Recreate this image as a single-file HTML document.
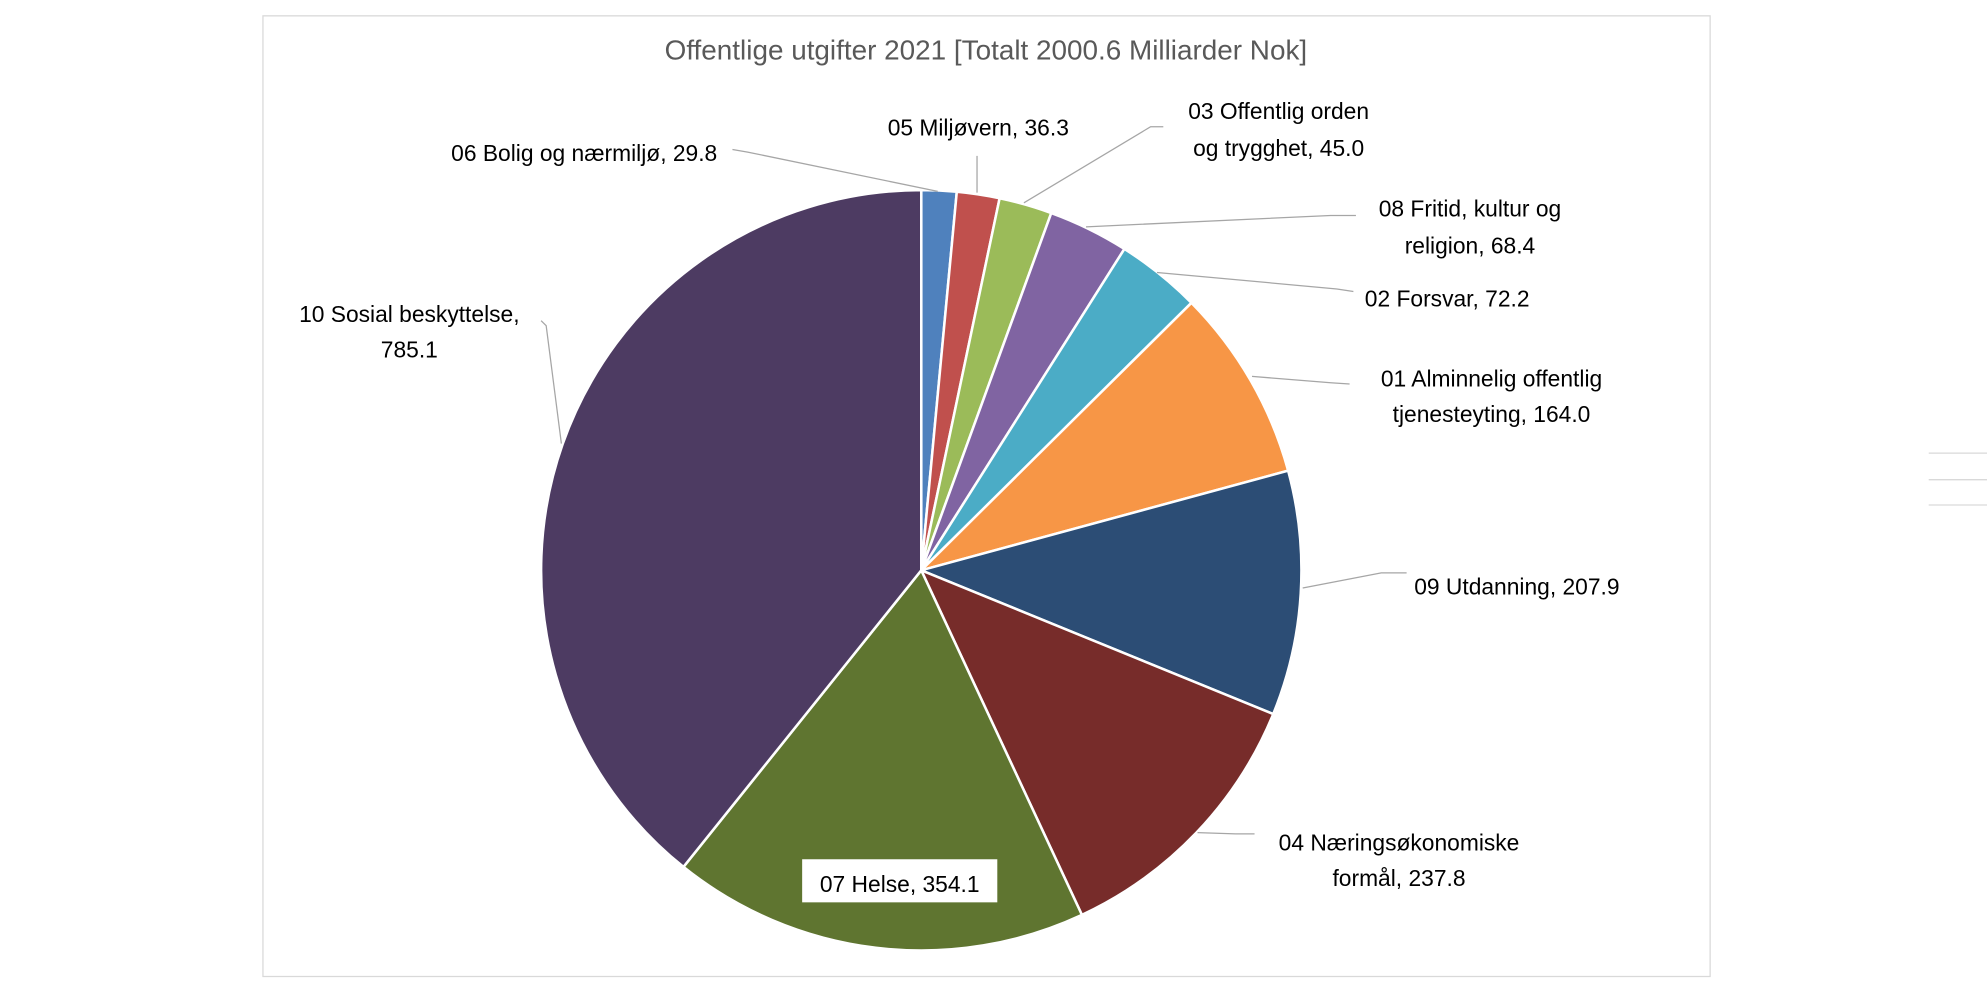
<!DOCTYPE html>
<html><head><meta charset="utf-8"><style>
html,body{margin:0;padding:0;background:#fff;}
svg{display:block;font-family:"Liberation Sans",Calibri,sans-serif;}
</style></head><body>
<svg id="chart" width="1987" height="1005" viewBox="0 0 1568 793" preserveAspectRatio="none" xmlns="http://www.w3.org/2000/svg">
<rect x="207.5" y="12.5" width="1142" height="758" fill="#fff" stroke="#d9d9d9" stroke-width="1"/>
<text x="778" y="47" text-anchor="middle" font-size="22" fill="#595959">Offentlige utgifter 2021 [Totalt 2000.6 Milliarder Nok]</text>
<g id="slices"></g>
<g stroke="#a6a6a6" stroke-width="1" fill="none">
<polyline points="578,118 590,120 740,151"/>
<polyline points="771,123 771,152"/>
<polyline points="918,100 908,100 808,160"/>
<polyline points="1070,170 1050,170 857,179"/>
<polyline points="1068,230 1055,228 913,215"/>
<polyline points="1065,303 1050,302 988,297"/>
<polyline points="1110,452 1090,452 1028,464"/>
<polyline points="990,658 975,658 945,657"/>
<polyline points="427,253 431,257 443,350"/>
</g>
<g font-size="18" fill="#000">
<text x="566" y="127" text-anchor="end">06 Bolig og nærmiljø, 29.8</text>
<text x="772" y="107" text-anchor="middle">05 Miljøvern, 36.3</text>
<text x="1009" y="94" text-anchor="middle">03 Offentlig orden</text>
<text x="1009" y="123" text-anchor="middle">og trygghet, 45.0</text>
<text x="1160" y="171" text-anchor="middle">08 Fritid, kultur og</text>
<text x="1160" y="200" text-anchor="middle">religion, 68.4</text>
<text x="1077" y="242">02 Forsvar, 72.2</text>
<text x="1177" y="305" text-anchor="middle">01 Alminnelig offentlig</text>
<text x="1177" y="333" text-anchor="middle">tjenesteyting, 164.0</text>
<text x="1116" y="469">09 Utdanning, 207.9</text>
<text x="1104" y="671" text-anchor="middle">04 Næringsøkonomiske</text>
<text x="1104" y="699" text-anchor="middle">formål, 237.8</text>
<text x="323" y="254" text-anchor="middle">10 Sosial beskyttelse,</text>
<text x="323" y="282" text-anchor="middle">785.1</text>
<rect x="633" y="678" width="154" height="34" fill="#fff"/>
<text x="710" y="704" text-anchor="middle">07 Helse, 354.1</text>
</g>
<g stroke="#d9d9d9" stroke-width="1">
<line x1="1522" y1="357.5" x2="1568" y2="357.5"/>
<line x1="1522" y1="378.5" x2="1568" y2="378.5"/>
<line x1="1522" y1="398.5" x2="1568" y2="398.5"/>
</g>
</svg>
<script>
const categories = ["06 Bolig og nærmiljø","05 Miljøvern","03 Offentlig orden og trygghet","08 Fritid, kultur og religion","02 Forsvar","01 Alminnelig offentlig tjenesteyting","09 Utdanning","04 Næringsøkonomiske formål","07 Helse","10 Sosial beskyttelse"];
const values = [29.8,36.3,45.0,68.4,72.2,164.0,207.9,237.8,354.1,785.1];
const colors = ["#4f81bd","#c0504d","#9bbb59","#8064a2","#4bacc6","#f79646","#2c4d75","#772c2a","#5f7530","#4d3b62"];
const cx=727, cy=450, r=300;
const total = values.reduce((a,b)=>a+b,0);
const g = document.getElementById('slices');
let acc = 0;
function pt(frac){const a=frac*2*Math.PI-Math.PI/2;return [cx+r*Math.cos(a), cy+r*Math.sin(a)];}
values.forEach((v,i)=>{
  const f0=acc/total, f1=(acc+v)/total; acc+=v;
  const p0=pt(f0), p1=pt(f1);
  const large=(f1-f0)>0.5?1:0;
  const path=document.createElementNS('http://www.w3.org/2000/svg','path');
  path.setAttribute('d',`M${cx},${cy} L${p0[0]},${p0[1]} A${r},${r} 0 ${large} 1 ${p1[0]},${p1[1]} Z`);
  path.setAttribute('fill',colors[i]);
  path.setAttribute('stroke','#fff');
  path.setAttribute('stroke-width','2');
  
  
  g.appendChild(path);
});
</script>
</body></html>
